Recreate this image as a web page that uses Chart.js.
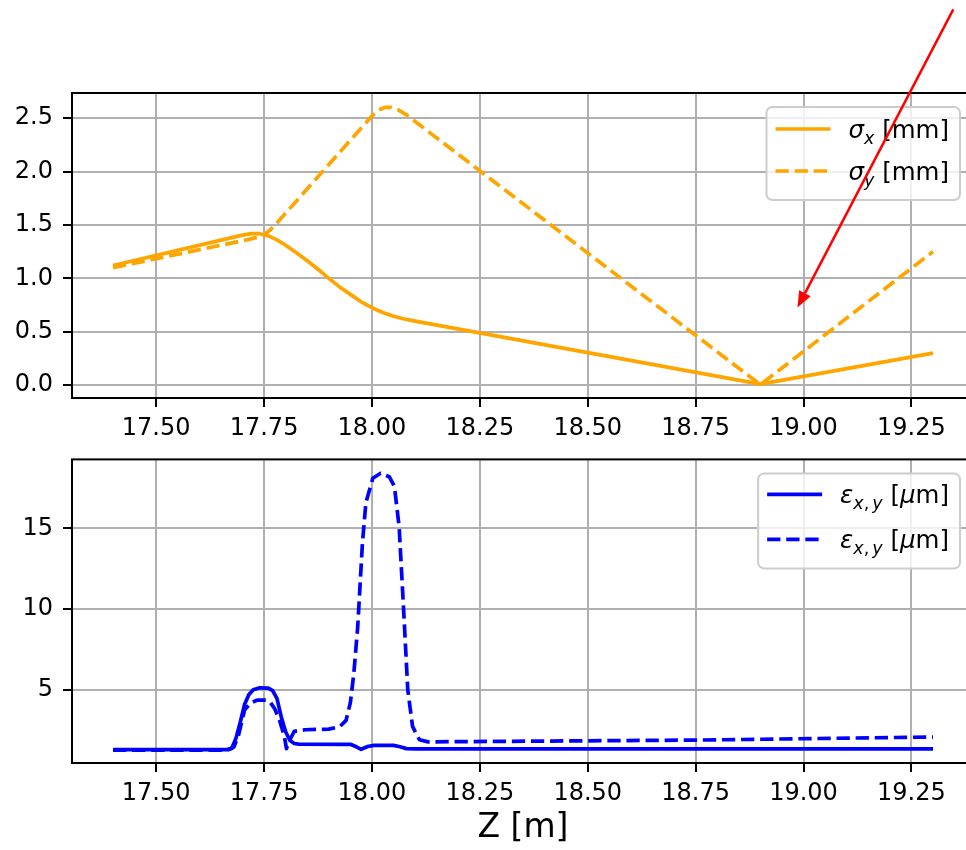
<!DOCTYPE html>
<html><head><meta charset="utf-8">
<script src="https://cdn.jsdelivr.net/npm/chart.js@4.4.1/dist/chart.umd.min.js"></script>
<style>
html,body{margin:0;padding:0;background:#fff;overflow:hidden;width:966px;height:850px;}
canvas{position:absolute;left:0;}
</style></head><body>
<canvas id="topChart" width="990" height="445" style="top:0;width:990px;height:445px"></canvas>
<canvas id="botChart" width="990" height="415" style="top:435px;width:990px;height:415px"></canvas>
<script>
// ---------- data ----------
const sigmaXZ = [17.40, 17.70, 17.72, 17.74, 17.76, 17.78, 17.80, 17.825, 17.85, 17.875, 17.90, 17.925, 17.95, 17.975, 18.00, 18.025, 18.05, 18.075, 18.10, 18.90, 19.30];
const sigmaX  = [1.12, 1.405, 1.418, 1.418, 1.398, 1.36, 1.31, 1.24, 1.165, 1.085, 1.00, 0.92, 0.85, 0.78, 0.725, 0.68, 0.645, 0.62, 0.60, 0.01, 0.30];
const sigmaYZ = [17.40, 17.71, 17.735, 17.75, 17.765, 17.78, 17.80, 18.00, 18.015, 18.03, 18.045, 18.06, 18.08, 18.90, 19.30];
const sigmaY  = [1.10, 1.36, 1.385, 1.41, 1.455, 1.52, 1.61, 2.52, 2.575, 2.60, 2.60, 2.58, 2.53, 0.005, 1.25];

const epsXZ = [17.40, 17.665, 17.675, 17.685, 17.695, 17.705, 17.715, 17.725, 17.74, 17.76, 17.77, 17.78, 17.79, 17.80, 17.81, 17.82, 17.83, 17.95, 17.965, 17.975, 17.99, 18.005, 18.05, 18.065, 18.08, 18.10, 19.30];
const epsX  = [1.29, 1.29, 1.36, 2.0, 3.0, 4.1, 4.7, 5.0, 5.12, 5.1, 4.95, 4.45, 3.3, 2.4, 1.85, 1.67, 1.63, 1.62, 1.45, 1.31, 1.48, 1.55, 1.55, 1.47, 1.35, 1.33, 1.34];
const epsYZ = [17.40, 17.665, 17.68, 17.69, 17.70, 17.705, 17.72, 17.735, 17.755, 17.765, 17.775, 17.786, 17.797, 17.802, 17.81, 17.82, 17.845, 17.90, 17.925, 17.94, 17.95, 17.958, 17.967, 17.978, 17.986, 18.002, 18.02, 18.04, 18.052, 18.063, 18.073, 18.083, 18.094, 18.11, 18.13, 18.75, 19.30];
const epsY  = [1.25, 1.26, 1.45, 2.1, 3.2, 3.76, 4.2, 4.36, 4.36, 4.2, 3.8, 3.1, 2.1, 1.35, 1.9, 2.42, 2.52, 2.56, 2.7, 3.1, 4.2, 6.0, 8.9, 14.1, 16.6, 18.1, 18.41, 18.2, 17.6, 15.1, 10.15, 5.0, 2.73, 1.9, 1.77, 1.88, 2.07];

const xTicks = [17.50, 17.75, 18.00, 18.25, 18.50, 18.75, 19.00, 19.25];
const xTickLabels = ['17.50', '17.75', '18.00', '18.25', '18.50', '18.75', '19.00', '19.25'];
const topYTicks = [0.0, 0.5, 1.0, 1.5, 2.0, 2.5];
const topYTickLabels = ['0.0', '0.5', '1.0', '1.5', '2.0', '2.5'];
const botYTicks = [5, 10, 15];
const botYTickLabels = ['5', '10', '15'];
const xLimits = [17.305, 19.395];
const topYLimits = [-0.12, 2.735];
const botYLimits = [0.46, 19.27];
const xTitle = 'Z [m]';
// annotation arrow (data coordinates of top panel): tail, head
const arrowTail = [19.347, 3.518];
const arrowHead = [18.986, 0.727];

// ---------- styling ----------
const ORANGE = '#FFA500', BLUE = '#0000FF';
const FONT = '"DejaVu Sans"';
const LW = 3.7, DASH = [13.3, 5.8];
Chart.defaults.font.family = FONT;
Chart.defaults.color = '#000';

function pts(zs, ys) { return zs.map((z, i) => ({x: z, y: ys[i]})); }

function drawRich(ctx, segs, x, y, measureOnly) {
  for (const s of segs) {
    if (s.gap) { x += s.gap; continue; }
    const size = s.sub ? 17.5 : 24.5;
    ctx.font = (s.it ? 'italic ' : '') + size + 'px ' + FONT;
    if (!measureOnly) ctx.fillText(s.t, x, y + (s.sub ? 6 : 0));
    x += ctx.measureText(s.t).width;
  }
  return x;
}

const framePlugin = {
  id: 'frameLegend',
  afterDatasetsDraw(chart, args, opts) {
    const ctx = chart.ctx, a = chart.chartArea;
    ctx.save();
    ctx.strokeStyle = '#000'; ctx.lineWidth = 2;
    ctx.strokeRect(a.left, a.top, a.right - a.left, a.bottom - a.top);
    // legend
    const items = opts.items;
    ctx.textBaseline = 'alphabetic';
    let tw = 0;
    for (const it of items) tw = Math.max(tw, drawRich(ctx, it.segs, 0, 0, true));
    const padL = 9, handle = 55, gap = 18, padR = 11;
    const w = padL + handle + gap + tw + padR;
    const rowH = opts.rowH, h = opts.boxH;
    const right = a.right - 14, top = a.top + 14, left = right - w;
    ctx.beginPath();
    ctx.roundRect(left, top, w, h, 6);
    ctx.fillStyle = 'rgba(255,255,255,0.8)';
    ctx.fill();
    ctx.strokeStyle = '#cccccc'; ctx.lineWidth = 2;
    ctx.stroke();
    items.forEach((it, i) => {
      const y = top + opts.firstRow + i * rowH;
      ctx.beginPath();
      ctx.strokeStyle = it.color; ctx.lineWidth = LW; ctx.lineCap = 'butt';
      ctx.setLineDash(it.dash ? DASH : []);
      ctx.moveTo(left + padL, y); ctx.lineTo(left + padL + handle, y);
      ctx.stroke();
      ctx.setLineDash([]);
      ctx.fillStyle = '#000';
      drawRich(ctx, it.segs, left + padL + handle + gap, y + 9, false);
    });
    ctx.restore();
  },
  afterDraw(chart, args, opts) {
    if (!opts.arrow) return;
    const ctx = chart.ctx, xs = chart.scales.x, ys = chart.scales.y;
    const x0 = xs.getPixelForValue(arrowTail[0]), y0 = ys.getPixelForValue(arrowTail[1]);
    const x1 = xs.getPixelForValue(arrowHead[0]), y1 = ys.getPixelForValue(arrowHead[1]);
    const ang = Math.atan2(y1 - y0, x1 - x0);
    const hl = 16, hw = 6.5;
    const bx = x1 - hl * Math.cos(ang), by = y1 - hl * Math.sin(ang);
    ctx.save();
    ctx.strokeStyle = '#FF0000'; ctx.fillStyle = '#FF0000'; ctx.lineWidth = 2.5;
    ctx.beginPath(); ctx.moveTo(x0, y0); ctx.lineTo(bx, by); ctx.stroke();
    ctx.beginPath();
    ctx.moveTo(x1, y1);
    ctx.lineTo(bx + hw * Math.sin(ang), by - hw * Math.cos(ang));
    ctx.lineTo(bx - hw * Math.sin(ang), by + hw * Math.cos(ang));
    ctx.closePath(); ctx.fill();
    ctx.restore();
  }
};

function makeOptions(yLim, yTicks, yLabels, padTop, xHeight, showTitle, plugOpts) {
  return {
    responsive: false, animation: false, events: [],
    layout: {padding: {left: 0, top: padTop, right: 16, bottom: 0}},
    plugins: {legend: {display: false}, tooltip: {enabled: false}, frameLegend: plugOpts},
    scales: {
      x: {
        type: 'linear', min: xLimits[0], max: xLimits[1],
        afterBuildTicks: s => { s.ticks = xTicks.map(v => ({value: v})); },
        afterFit: s => { s.height = xHeight; },
        grid: {color: '#b0b0b0', lineWidth: 2, drawTicks: true, tickLength: 9, tickColor: '#000', tickWidth: 2},
        border: {display: false},
        ticks: {font: {size: 24}, color: '#000', padding: 7, maxRotation: 0, autoSkip: false,
                callback: (v) => xTickLabels[xTicks.indexOf(v)] ?? ''},
        title: {display: showTitle, text: xTitle, font: {size: 33}, color: '#000', padding: {top: 0, bottom: 2}}
      },
      y: {
        type: 'linear', min: yLim[0], max: yLim[1],
        afterBuildTicks: s => { s.ticks = yTicks.map(v => ({value: v})); },
        afterFit: s => { s.width = 72; },
        grid: {color: '#b0b0b0', lineWidth: 2, drawTicks: true, tickLength: 9, tickColor: '#000', tickWidth: 2},
        border: {display: false},
        ticks: {font: {size: 24}, color: '#000', padding: 10, autoSkip: false,
                callback: (v) => yLabels[yTicks.indexOf(v)] ?? ''}
      }
    }
  };
}

function ds(label, data, color, dashed) {
  return {label, data, borderColor: color, backgroundColor: color, borderWidth: LW,
          borderDash: dashed ? DASH : [], pointRadius: 0, tension: 0, fill: false,
          borderCapStyle: 'butt', borderJoinStyle: 'round'};
}

new Chart(document.getElementById('topChart'), {
  type: 'line',
  data: {datasets: [
    ds('sigma_x', pts(sigmaXZ, sigmaX), ORANGE, false),
    ds('sigma_y', pts(sigmaYZ, sigmaY), ORANGE, true)
  ]},
  options: makeOptions(topYLimits, topYTicks, topYTickLabels, 93, 47, false, {
    arrow: true, rowH: 42, boxH: 93, firstRow: 22,
    items: [
      {color: ORANGE, dash: false, segs: [{t: 'σ', it: 1}, {t: 'x', it: 1, sub: 1}, {t: ' [mm]'}]},
      {color: ORANGE, dash: true, segs: [{t: 'σ', it: 1}, {t: 'y', it: 1, sub: 1}, {t: ' [mm]'}]}
    ]
  }),
  plugins: [framePlugin]
});

new Chart(document.getElementById('botChart'), {
  type: 'line',
  data: {datasets: [
    ds('eps_x', pts(epsXZ, epsX), BLUE, false),
    ds('eps_y', pts(epsYZ, epsY), BLUE, true)
  ]},
  options: makeOptions(botYLimits, botYTicks, botYTickLabels, 24, 87, true, {
    arrow: false, rowH: 45, boxH: 95, firstRow: 21,
    items: [
      {color: BLUE, dash: false, segs: [{t: 'ε', it: 1}, {t: 'x', it: 1, sub: 1}, {t: ',', sub: 1}, {gap: 3}, {t: 'y', it: 1, sub: 1}, {t: ' ['}, {t: 'μ', it: 1}, {t: 'm]'}]},
      {color: BLUE, dash: true, segs: [{t: 'ε', it: 1}, {t: 'x', it: 1, sub: 1}, {t: ',', sub: 1}, {gap: 3}, {t: 'y', it: 1, sub: 1}, {t: ' ['}, {t: 'μ', it: 1}, {t: 'm]'}]}
    ]
  }),
  plugins: [framePlugin]
});
</script>
</body></html>
